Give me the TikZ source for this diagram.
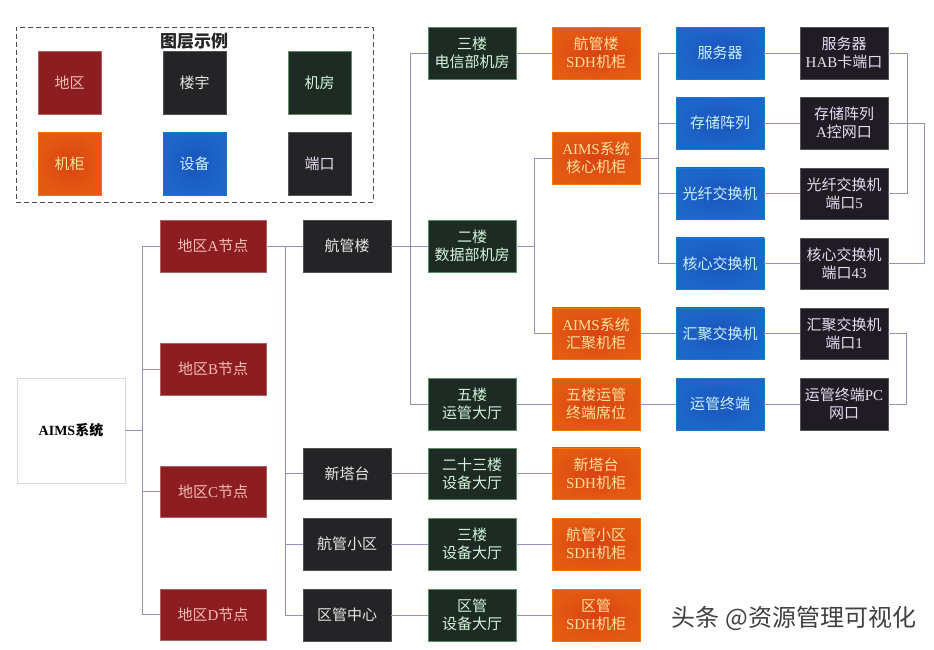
\documentclass[tikz,border=0pt]{standalone}
\usepackage{fontspec}
\setmainfont{Noto Sans CJK SC}
\newfontfamily\latf{Liberation Serif}
\newcommand{\la}[1]{{\latf #1}}
\definecolor{cmaroon}{HTML}{8C1D20}
\definecolor{tmaroon}{HTML}{F6BDB8}
\definecolor{cdark}{HTML}{242426}
\definecolor{tdark}{HTML}{E6E6E6}
\definecolor{croom}{HTML}{1E2A24}
\definecolor{troom}{HTML}{D2F5DA}
\definecolor{orangein}{HTML}{DA4212}
\definecolor{orangeout}{HTML}{E35A12}
\definecolor{torange}{HTML}{FFE19C}
\definecolor{bluein}{HTML}{1A55BC}
\definecolor{blueout}{HTML}{1D66CA}
\definecolor{cblue}{HTML}{1B5DC0}
\definecolor{tblue}{HTML}{CBF2FF}
\definecolor{cport}{HTML}{1F1C24}
\definecolor{tport}{HTML}{E9DCF4}
\definecolor{cline}{HTML}{8D92C2}
\tikzset{
  x=1pt,y=-1pt,
  boxbase/.style={rectangle,inner sep=0pt,align=center,font=\fontsize{15}{18}\selectfont,line width=.4pt},
  regionbox/.style={boxbase,minimum width=106pt,minimum height=51.5pt,fill=cmaroon,draw=cmaroon!70!white,text=tmaroon},
  buildbox/.style={boxbase,minimum width=88pt,minimum height=51.5pt,fill=cdark,draw=cdark!80!white,text=tdark},
  roombox/.style={boxbase,minimum width=88pt,minimum height=51.5pt,fill=croom,draw=croom!75!green!70!white,text=troom},
  cabbox/.style={boxbase,minimum width=88pt,minimum height=51.5pt,inner color=orangein,outer color=orangeout,draw=orange!70!orangeout,text=torange},
  devbox/.style={boxbase,minimum width=88pt,minimum height=51.5pt,inner color=bluein,outer color=blueout,draw=cblue!80!cyan,text=tblue},
  portbox/.style={boxbase,minimum width=88pt,minimum height=51.5pt,fill=cport,draw=cport!75!white,text=tport},
  sq/.style={minimum width=63pt,minimum height=63pt},
  link/.style={draw=cline,line width=.7pt},
}
\begin{document}
\begin{tikzpicture}
\useasboundingbox (0,0) rectangle (934,649);
% connector junctions
\coordinate (j1) at (142,430.5);
\coordinate (j2) at (285,246);
\coordinate (j3) at (410,246);
\coordinate (j4) at (534,246);
\coordinate (j5) at (658,158);
\coordinate (k1) at (907,53);
\coordinate (k2) at (924,123);
\coordinate (k3) at (906,333.5);
% legend
\node[draw=black!70,line width=.8pt,dash pattern=on 5pt off 3pt,minimum width=357pt,minimum height=175pt,inner sep=0pt] (legend) at (194.5,114.5) {};
\node[font=\fontsize{17}{18}\selectfont\bfseries,text=black!85,inner sep=0pt] (ltitle) at (194,41) {图层示例};
\node[regionbox,sq] (l1) at (69.5,82.5) {地区};
\node[buildbox,sq] (l2) at (194.5,82.5) {楼宇};
\node[roombox,sq] (l3) at (319.5,82.5) {机房};
\node[cabbox,sq] (l4) at (69.5,163.5) {机柜};
\node[devbox,sq] (l5) at (194.5,163.5) {设备};
\node[portbox,sq,fill=cdark] (l6) at (319.5,163.5) {端口};
% root
\node[boxbase,draw=black!15,fill=white,minimum width=108pt,minimum height=105pt,text=black,font=\fontsize{14}{18}\selectfont\bfseries] (aims) at (71,430.5) {{\latf\bfseries AIMS}系统};
% regions
\node[regionbox] (ra) at (213,246) {地区\la{A}节点};
\node[regionbox] (rb) at (213,369) {地区\la{B}节点};
\node[regionbox] (rc) at (213,491.5) {地区\la{C}节点};
\node[regionbox] (rd) at (213,614.5) {地区\la{D}节点};
% buildings
\node[buildbox] (b1) at (347,246) {航管楼};
\node[buildbox] (b2) at (347,473.5) {新塔台};
\node[buildbox] (b3) at (347,544) {航管小区};
\node[buildbox] (b4) at (347,615) {区管中心};
% rooms
\node[roombox] (m1) at (472,53) {三楼\\电信部机房};
\node[roombox] (m2) at (472,246) {二楼\\数据部机房};
\node[roombox] (m3) at (472,404) {五楼\\运管大厅};
\node[roombox] (m4) at (472,473.5) {二十三楼\\设备大厅};
\node[roombox] (m5) at (472,544) {三楼\\设备大厅};
\node[roombox] (m6) at (472,615) {区管\\设备大厅};
% cabinets
\node[cabbox] (c1) at (596,53) {航管楼\\\la{SDH}机柜};
\node[cabbox] (c2) at (596,158) {\la{AIMS}系统\\核心机柜};
\node[cabbox] (c3) at (596,333.5) {\la{AIMS}系统\\汇聚机柜};
\node[cabbox] (c4) at (596,404) {五楼运管\\终端席位};
\node[cabbox] (c5) at (596,473.5) {新塔台\\\la{SDH}机柜};
\node[cabbox] (c6) at (596,544) {航管小区\\\la{SDH}机柜};
\node[cabbox] (c7) at (596,615) {区管\\\la{SDH}机柜};
% devices
\node[devbox] (d1) at (720,53) {服务器};
\node[devbox] (d2) at (720,123) {存储阵列};
\node[devbox] (d3) at (720,193.5) {光纤交换机};
\node[devbox] (d4) at (720,263.5) {核心交换机};
\node[devbox] (d5) at (720,333.5) {汇聚交换机};
\node[devbox] (d6) at (720,404) {运管终端};
% ports
\node[portbox] (p1) at (844,53) {服务器\\\la{HAB}卡端口};
\node[portbox] (p2) at (844,123) {存储阵列\\\la{A}控网口};
\node[portbox] (p3) at (844,193.5) {光纤交换机\\端口\la{5}};
\node[portbox] (p4) at (844,263.5) {核心交换机\\端口\la{43}};
\node[portbox] (p5) at (844,333.5) {汇聚交换机\\端口\la{1}};
\node[portbox] (p6) at (844,404) {运管终端\la{PC}\\网口};
% connectors
\path[link] (aims.east) -- (j1);
\path[link] (j1) |- (ra.west);
\path[link] (j1) |- (rb.west);
\path[link] (j1) |- (rc.west);
\path[link] (j1) |- (rd.west);
\path[link] (ra.east) -- (b1.west);
\path[link] (j2) |- (b2.west);
\path[link] (j2) |- (b3.west);
\path[link] (j2) |- (b4.west);
\path[link] (b1.east) -- (m2.west);
\path[link] (j3) |- (m1.west);
\path[link] (j3) |- (m3.west);
\path[link] (m2.east) -- (j4);
\path[link] (j4) |- (c2.west);
\path[link] (j4) |- (c3.west);
\path[link] (m1.east) -- (c1.west);
\path[link] (m3.east) -- (c4.west);
\path[link] (m4.east) -- (c5.west);
\path[link] (m5.east) -- (c6.west);
\path[link] (m6.east) -- (c7.west);
\path[link] (b2.east) -- (m4.west);
\path[link] (b3.east) -- (m5.west);
\path[link] (b4.east) -- (m6.west);
\path[link] (c2.east) -- (j5);
\path[link] (j5) |- (d1.west);
\path[link] (j5) |- (d2.west);
\path[link] (j5) |- (d3.west);
\path[link] (j5) |- (d4.west);
\path[link] (c3.east) -- (d5.west);
\path[link] (c4.east) -- (d6.west);
\path[link] (d1.east) -- (p1.west);
\path[link] (d2.east) -- (p2.west);
\path[link] (d3.east) -- (p3.west);
\path[link] (d4.east) -- (p4.west);
\path[link] (d5.east) -- (p5.west);
\path[link] (d6.east) -- (p6.west);
\path[link] (p1.east) -- (k1) |- (p3.east);
\path[link] (p2.east) -- (k2) |- (p4.east);
\path[link] (p5.east) -- (k3) |- (p6.east);
% watermark
\node[font=\fontsize{24}{26}\selectfont,text=black!75,inner sep=0pt] (wm) at (794,618) {头条 @资源管理可视化};
\end{tikzpicture}
\end{document}
